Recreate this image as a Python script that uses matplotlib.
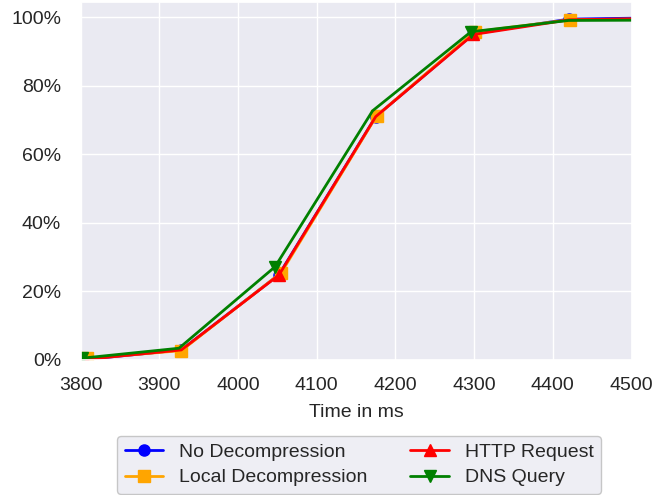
import matplotlib
matplotlib.use("Agg")
import matplotlib.pyplot as plt
import seaborn as sns
from matplotlib.ticker import PercentFormatter

sns.set_theme(style="darkgrid")
plt.rcParams['font.family'] = ['Liberation Sans', 'DejaVu Sans']

labels = ["No Decompression", "Local Decompression", "HTTP Request", "DNS Query"]
colors = ["blue", "orange", "red", "green"]
markers = ["o", "s", "^", "v"]
mark_every = [1, 1, 2, 2]

x_none = [3805, 3928, 4052, 4175, 4299, 4421, 4545]
y_none = [0.0, 2.8, 24.8, 71.0, 95.2, 99.5, 99.9]

x_local = [3808, 3928, 4055, 4176, 4301, 4422, 4546]
y_local = [0.3, 2.6, 25.4, 71.2, 95.8, 99.3, 99.6]

x_http = [3805, 3928, 4052, 4175, 4299, 4421, 4545]
y_http = [0.0, 2.8, 24.7, 71.0, 95.0, 99.3, 99.7]

x_dns = [3802, 3925, 4047, 4171, 4296, 4420, 4544]
y_dns = [0.4, 3.3, 27.1, 72.7, 95.8, 99.1, 99.2]

fig = plt.figure(figsize=(6.69, 4.95), dpi=100)
ax = fig.add_axes([0.1205, 0.2737, 0.944 - 0.1205, 0.996 - 0.2737])

series = [(x_none, y_none), (x_local, y_local), (x_http, y_http), (x_dns, y_dns)]
for (xs, ys), lab, c, m, me in zip(series, labels, colors, markers, mark_every):
    ax.plot(xs, ys, color=c, marker=m, markersize=8, linewidth=2, label=lab,
            markevery=me)

ax.set_xlim(3800, 4500)
ax.set_ylim(0, 104.5)
ax.set_yticks([0, 20, 40, 60, 80, 100])
ax.yaxis.set_major_formatter(PercentFormatter(100, decimals=0))
ax.tick_params(labelsize=14)
ax.tick_params(axis="x", pad=6.5)
ax.tick_params(axis="y", pad=8)
ax.set_xlabel("Time in ms", fontsize=14, labelpad=7)

fig.legend(loc="upper center", bbox_to_anchor=(359 / 669, 1 - 426 / 495), ncol=2,
           fontsize=14, frameon=True, edgecolor="#BBBBBB", columnspacing=2.2,
           labelspacing=0.4)

fig.savefig("out.png", dpi=100)
